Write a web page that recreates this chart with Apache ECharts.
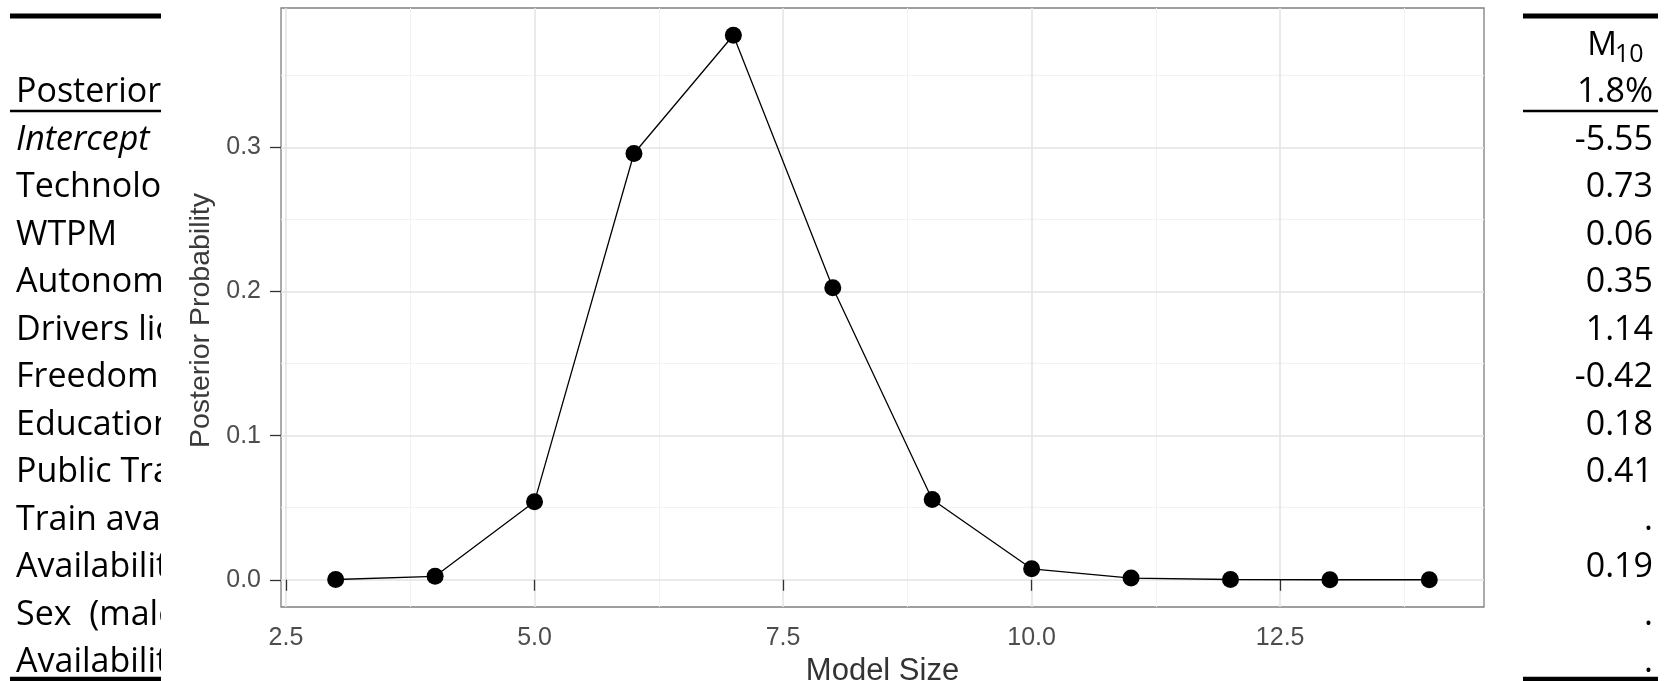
<!DOCTYPE html>
<html>
<head>
<meta charset="utf-8">
<script src="https://cdn.jsdelivr.net/npm/echarts@6/dist/echarts.min.js"></script>
<style>
html,body{margin:0;padding:0;background:#fff;}
#main{width:1665px;height:681px;}
</style>
</head>
<body>
<div id="main"></div>
<script>
// ---- chart data ----
const modelSizes = [3, 4, 5, 6, 7, 8, 9, 10, 11, 12, 13, 14];
const posteriorProb = [0.0002, 0.0024, 0.0542, 0.2958, 0.3779, 0.2027, 0.0557, 0.0076, 0.0012, 0.0002, 0.0000, 0.0000];
const xTicks = [2.5, 5.0, 7.5, 10.0, 12.5];
const yTicks = [0.0, 0.1, 0.2, 0.3];
const xMinorGrid = [3.75, 6.25, 8.75, 11.25, 13.75];
const yMinorGrid = [0.05, 0.15, 0.25, 0.35];

// ---- background table (partly covered by the chart) ----
const tableLabels = ["Posterior", "Intercept", "Technolog", "WTPM", "Autonom", "Drivers lic", "Freedom", "Education", "Public Tra", "Train avai", "Availabilit", "Sex  (male", "Availabilit"];
const tableHeader = "M";
const tableHeaderSub = "10";
const tableValues = ["1.8%", "-5.55", "0.73", "0.06", "0.35", "1.14", "-0.42", "0.18", "0.41", ".", "0.19", ".", "."];

const chart = echarts.init(document.getElementById('main'), null, {renderer: 'canvas'});

const xLo = Math.min(...modelSizes), xHi = Math.max(...modelSizes);
const yLo = Math.min(...posteriorProb), yHi = Math.max(...posteriorProb);
const xPad = (xHi - xLo) * 0.05, yPad = (yHi - yLo) * 0.05;

const pts = modelSizes.map((x, i) => [x, posteriorProb[i]]);

// table layout
const TFONT = '"Open Sans", "Noto Sans", sans-serif';
const TSIZE = 34;
const row0Bottom = 109.5, rowStep = 47.5;
const graphics = [];
tableLabels.forEach((t, i) => {
  graphics.push({
    type: 'text', z: 1, x: 16, y: row0Bottom + i * rowStep,
    style: {text: t, fill: '#000', font: (i === 1 ? 'italic ' : '') + TSIZE + 'px ' + TFONT,
            textAlign: 'left', textVerticalAlign: 'bottom'}
  });
});
tableValues.forEach((t, i) => {
  graphics.push({
    type: 'text', z: 1, x: 1653, y: row0Bottom + i * rowStep,
    style: {text: t, fill: '#000', font: TSIZE + 'px ' + TFONT,
            textAlign: 'right', textVerticalAlign: 'bottom'}
  });
});
graphics.push({
  type: 'text', z: 1, x: 1617, y: 62.5,
  style: {text: tableHeader, fill: '#000', font: '33px ' + TFONT, textAlign: 'right', textVerticalAlign: 'bottom'}
});
graphics.push({
  type: 'text', z: 1, x: 1615, y: 67.5,
  style: {text: tableHeaderSub, fill: '#000', font: '25px ' + TFONT, textAlign: 'left', textVerticalAlign: 'bottom'}
});
// rules
[[16, 5], [111, 2.3], [679, 4.5]].forEach(([y, w]) => {
  graphics.push({type: 'line', z: 1, shape: {x1: 10, y1: y, x2: 161, y2: y}, style: {stroke: '#000', lineWidth: w}});
  graphics.push({type: 'line', z: 1, shape: {x1: 1523, y1: y, x2: 1658, y2: y}, style: {stroke: '#000', lineWidth: w}});
});
// chart canvas background covering the table
graphics.push({type: 'rect', z: 2, shape: {x: 161, y: 0, width: 1361, height: 681}, style: {fill: '#fff'}});

const AX_FONT = '"Liberation Sans", Arial, sans-serif';

chart.setOption({
  animation: false,
  backgroundColor: '#fff',
  graphic: graphics,
  grid: {left: 281, top: 8, width: 1203, height: 599, show: true, z: 3,
         containLabel: false, outerBoundsMode: 'none',
         backgroundColor: '#fff', borderColor: '#7f7f7f', borderWidth: 1.3},
  xAxis: {
    type: 'value', min: xLo - xPad, max: xHi + xPad, z: 10,
    name: 'Model Size', nameLocation: 'middle', nameGap: 49,
    nameTextStyle: {fontFamily: AX_FONT, fontSize: 31, color: '#333'},
    axisLine: {show: false},
    axisTick: {show: true, length: 11, customValues: xTicks, lineStyle: {color: '#333', width: 1.3}},
    axisLabel: {customValues: xTicks, margin: 19, fontFamily: AX_FONT, fontSize: 25, color: '#4d4d4d',
                formatter: v => Number(v).toFixed(1)},
    splitLine: {show: false}
  },
  yAxis: {
    type: 'value', min: yLo - yPad, max: yHi + yPad, z: 10,
    name: 'Posterior Probability', nameLocation: 'middle', nameGap: 46, nameRotate: 90,
    nameTextStyle: {fontFamily: AX_FONT, fontSize: 28.5, color: '#3a3a3a', padding: [0, 26, 0, 0]},
    axisLine: {show: false},
    axisTick: {show: true, length: 11, customValues: yTicks, lineStyle: {color: '#333', width: 1.3}},
    axisLabel: {customValues: yTicks, margin: 20, fontFamily: AX_FONT, fontSize: 25, color: '#4d4d4d',
                formatter: v => Number(v).toFixed(1)},
    splitLine: {show: false}
  },
  series: [
    {
      type: 'line', z: 4, data: pts, showSymbol: false, silent: true,
      lineStyle: {opacity: 0},
      markLine: {
        silent: true, symbol: 'none', label: {show: false}, animation: false,
        lineStyle: {color: '#f2f2f2', width: 1, type: 'solid'},
        data: xMinorGrid.map(v => ({xAxis: v})).concat(yMinorGrid.map(v => ({yAxis: v})))
      }
    },
    {
      type: 'line', z: 5, data: pts, showSymbol: false, silent: true,
      lineStyle: {opacity: 0},
      markLine: {
        silent: true, symbol: 'none', label: {show: false}, animation: false,
        lineStyle: {color: '#e3e3e3', width: 1.5, type: 'solid'},
        data: xTicks.map(v => ({xAxis: v})).concat(yTicks.map(v => ({yAxis: v})))
      }
    },
    {
      type: 'line', z: 12, data: pts,
      symbol: 'circle', symbolSize: 17, showSymbol: true,
      itemStyle: {color: '#000'},
      lineStyle: {color: '#000', width: 1.3}
    }
  ]
});
</script>
</body>
</html>
